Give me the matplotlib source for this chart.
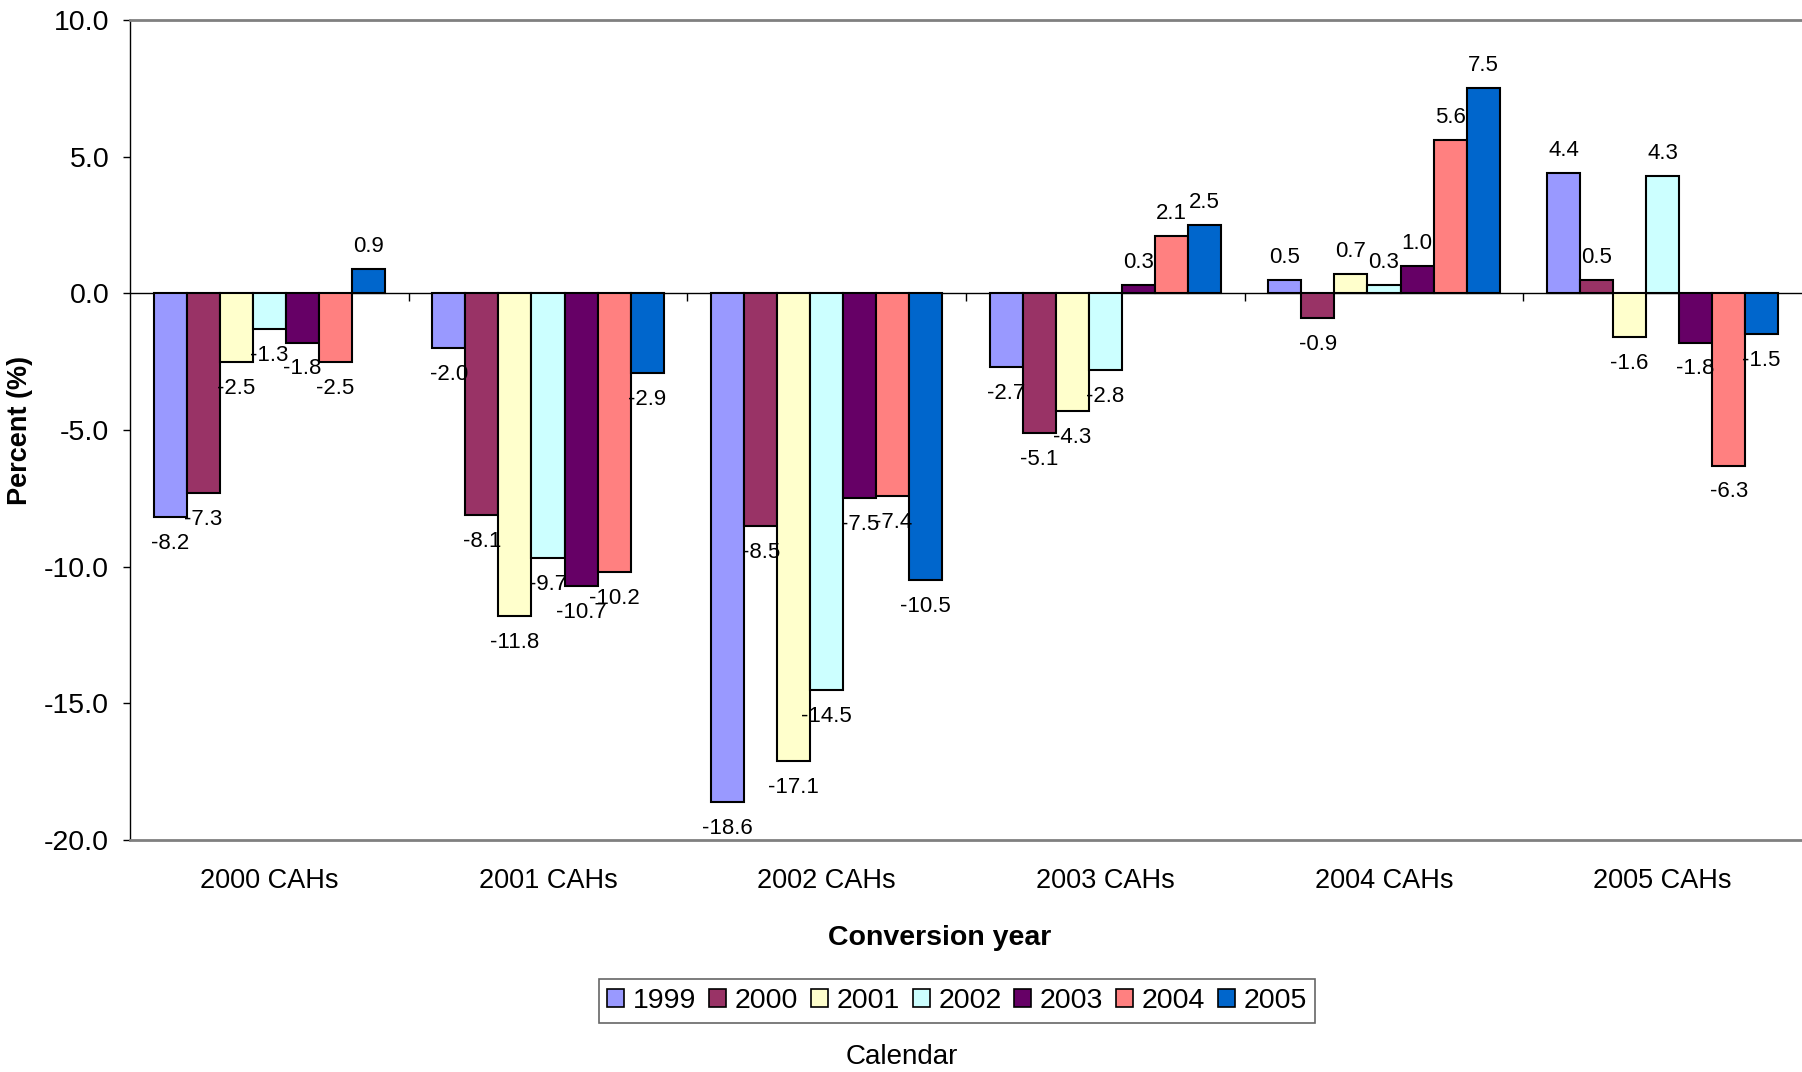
import matplotlib
matplotlib.use("Agg")
import matplotlib.pyplot as plt
import numpy as np
from matplotlib.patches import Patch

plt.rcParams['font.family'] = ['Liberation Sans', 'DejaVu Sans']

categories = ["2000 CAHs", "2001 CAHs", "2002 CAHs", "2003 CAHs", "2004 CAHs", "2005 CAHs"]
series_names = ["1999", "2000", "2001", "2002", "2003", "2004", "2005"]
v1999 = [-8.2, -2.0, -18.6, -2.7, 0.5, 4.4]
v2000 = [-7.3, -8.1, -8.5, -5.1, -0.9, 0.5]
v2001 = [-2.5, -11.8, -17.1, -4.3, 0.7, -1.6]
v2002 = [-1.3, -9.7, -14.5, -2.8, 0.3, 4.3]
v2003 = [-1.8, -10.7, -7.5, 0.3, 1.0, -1.8]
v2004 = [-2.5, -10.2, -7.4, 2.1, 5.6, -6.3]
v2005 = [0.9, -2.9, -10.5, 2.5, 7.5, -1.5]
series_values = [v1999, v2000, v2001, v2002, v2003, v2004, v2005]
colors = ["#9999FF", "#993366", "#FFFFCC", "#CCFFFF", "#660066", "#FF8080", "#0066CC"]
yticks = [-20, -15, -10, -5, 0, 5, 10]

W, H = 1802, 1072
fig = plt.figure(figsize=(W / 100, H / 100), dpi=100)
ax = fig.add_axes([130 / W, 1 - 840 / H, 1 - 130 / W, 820 / H])

x = np.arange(len(categories))
n = len(series_names)
bw = 0.829 / n
for i, (name, vals, c) in enumerate(zip(series_names, series_values, colors)):
    pos = x - 0.829 / 2 + bw * (i + 0.5)
    ax.bar(pos, vals, width=bw, color=c, edgecolor='black', linewidth=1.5, label=name, zorder=3)
    for px, v in zip(pos, vals):
        off = 12.3 if v >= 0 else -23.0
        ax.annotate(f"{v:.1f}", xy=(px, v), xytext=(0, off), textcoords='offset points',
                    ha='center', va='baseline', fontsize=16, zorder=4)

ax.set_xlim(-0.5, len(categories) - 0.5)
ax.set_ylim(-20, 10)
ax.set_yticks(yticks)
ax.set_yticklabels([f"{t:.1f}" for t in yticks], fontsize=20.5)
ax.tick_params(axis='y', length=5, width=1, pad=10, direction='out')
ax.set_xticks(x)
ax.set_xticklabels(categories, fontsize=19.5)
ax.tick_params(axis='x', length=0, pad=20)

# zero axis line with category-boundary tick marks
ax.axhline(0, color='black', linewidth=1, zorder=2)
ax.vlines(x[:-1] + 0.5, -0.27, 0, color='black', linewidth=1, zorder=2)

ax.spines['right'].set_visible(False)
for s in ('top', 'bottom'):
    ax.spines[s].set_color('#808080')
    ax.spines[s].set_linewidth(2)
ax.spines['left'].set_color('black')
ax.spines['left'].set_linewidth(1)

fig.text(20 / W, 1 - 430 / H, "Percent (%)", rotation=90, ha='center', va='center',
         fontsize=19.5, fontweight='bold')
fig.text(940 / W, 1 - 938 / H, "Conversion year", ha='center', va='center',
         fontsize=20.5, fontweight='bold')
fig.text(902 / W, 1 - 1057 / H, "Calendar", ha='center', va='center', fontsize=20)

handles = [Patch(facecolor=c, edgecolor='black', linewidth=1.2) for c in colors]
leg = fig.legend(handles, series_names, loc='center', bbox_to_anchor=(957 / W, 1 - 1001 / H),
                 ncol=n, fontsize=20.5, frameon=True, fancybox=False, handlelength=0.6,
                 handleheight=0.6, handletextpad=0.3, columnspacing=0.45, borderpad=0.3,
                 borderaxespad=0)
leg.get_frame().set_edgecolor('#404040')
leg.get_frame().set_linewidth(1.2)

fig.savefig("out.png", dpi=100)
